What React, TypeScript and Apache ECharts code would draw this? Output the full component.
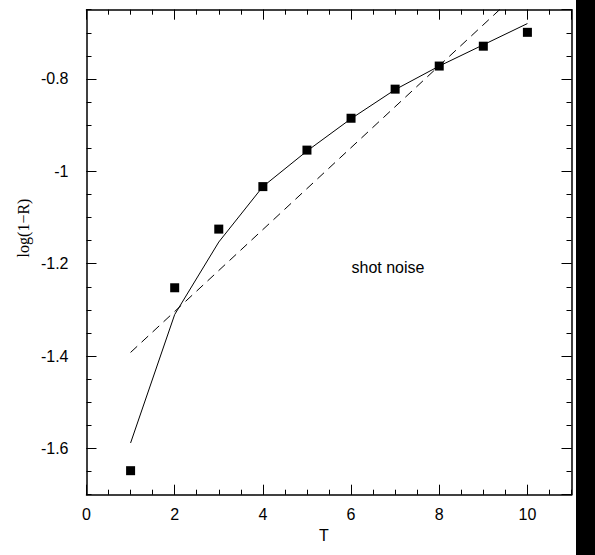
import React, { useEffect, useRef } from "react";
import * as echarts from "echarts";

const T = [1, 2, 3, 4, 5, 6, 7, 8, 9, 10];
const measured = [-1.648, -1.252, -1.125, -1.033, -0.954, -0.885, -0.822, -0.772, -0.729, -0.699];
const model = [-1.588, -1.31, -1.153, -1.033, -0.956, -0.886, -0.823, -0.772, -0.726, -0.68];
const fitT = [1, 10];
const fitValues = [-1.392, -0.594];
const annotation = "shot noise";
const xName = "T";
const yName = "log(1\u2212R)";

const X_MIN = 0, X_MAX = 11, Y_MIN = -1.7, Y_MAX = -0.65;
const SANS = "'Liberation Sans', Arial, sans-serif";

function xAxis(pos: string, major: boolean) {
  return {
    type: "value",
    position: pos,
    min: X_MIN,
    max: X_MAX,
    interval: major ? 2 : 0.5,
    name: major && pos === "bottom" ? xName : "",
    nameLocation: "middle",
    nameGap: 33,
    nameTextStyle: { fontFamily: SANS, fontSize: 16, color: "#000", padding: [0, 10, 0, 0] },
    axisLine: { show: major, onZero: false, lineStyle: { color: "#000", width: 1.5 } },
    axisTick: { show: true, inside: true, length: major ? 10 : 5, lineStyle: { color: "#000", width: 1 } },
    axisLabel: {
      show: major && pos === "bottom",
      showMaxLabel: false,
      margin: 12,
      fontFamily: SANS,
      fontSize: 16,
      color: "#000",
    },
    splitLine: { show: false },
  };
}

function yAxis(pos: string, major: boolean) {
  const base: any = {
    type: "value",
    position: pos,
    min: Y_MIN,
    max: Y_MAX,
    axisLine: { show: major, onZero: false, lineStyle: { color: "#000", width: 1.5 } },
    axisTick: { show: true, inside: true, length: major ? 10 : 5, lineStyle: { color: "#000", width: 1 } },
    axisLabel: {
      show: major && pos === "left",
      showMinLabel: false,
      showMaxLabel: false,
      margin: 18,
      fontFamily: SANS,
      fontSize: 16,
      color: "#000",
    },
    splitLine: { show: false },
  };
  if (major) base.splitNumber = 5;
  else base.interval = 0.05;
  return base;
}

export default function App() {
  const ref = useRef<HTMLDivElement>(null);
  useEffect(() => {
    if (!ref.current) return;
    const chart = echarts.init(ref.current, null, { renderer: "svg" });
    chart.setOption({
      animation: false,
      backgroundColor: "#fff",
      grid: { left: 86.5, top: 9.7, width: 485, height: 485 },
      xAxis: [xAxis("bottom", true), xAxis("bottom", false), xAxis("top", true), xAxis("top", false)],
      yAxis: [yAxis("left", true), yAxis("left", false), yAxis("right", true), yAxis("right", false)],
      series: [
        {
          type: "line",
          data: fitT.map((t, i) => [t, fitValues[i]]),
          symbol: "none",
          clip: true,
          lineStyle: { color: "#000", width: 1, type: [9, 6] },
          xAxisIndex: 0,
          yAxisIndex: 0,
        },
        {
          type: "line",
          data: T.map((t, i) => [t, model[i]]),
          symbol: "none",
          lineStyle: { color: "#000", width: 1 },
          xAxisIndex: 0,
          yAxisIndex: 0,
        },
        {
          type: "scatter",
          data: T.map((t, i) => [t, measured[i]]),
          symbol: "rect",
          symbolSize: 9,
          itemStyle: { color: "#000", opacity: 1 },
          xAxisIndex: 0,
          yAxisIndex: 0,
        },
      ],
      graphic: [
        {
          type: "rect",
          shape: { x: 576, y: 0, width: 19, height: 555 },
          style: { fill: "#000" },
        },
        {
          type: "text",
          x: 388,
          y: 267,
          style: {
            text: annotation,
            fontFamily: SANS,
            fontSize: 16,
            fill: "#000",
            align: "center",
            verticalAlign: "middle",
          },
        },
        {
          type: "text",
          x: 23,
          y: 228,
          rotation: Math.PI / 2,
          style: {
            text: yName,
            fontFamily: "'Liberation Serif', 'Times New Roman', serif",
            fontSize: 16,
            fill: "#000",
            align: "center",
            verticalAlign: "middle",
          },
        },
      ],
    });
    return () => chart.dispose();
  }, []);
  return (
    <div
      ref={ref}
      style={{ position: "fixed", left: 0, top: 0, width: 595, height: 555 }}
    />
  );
}
